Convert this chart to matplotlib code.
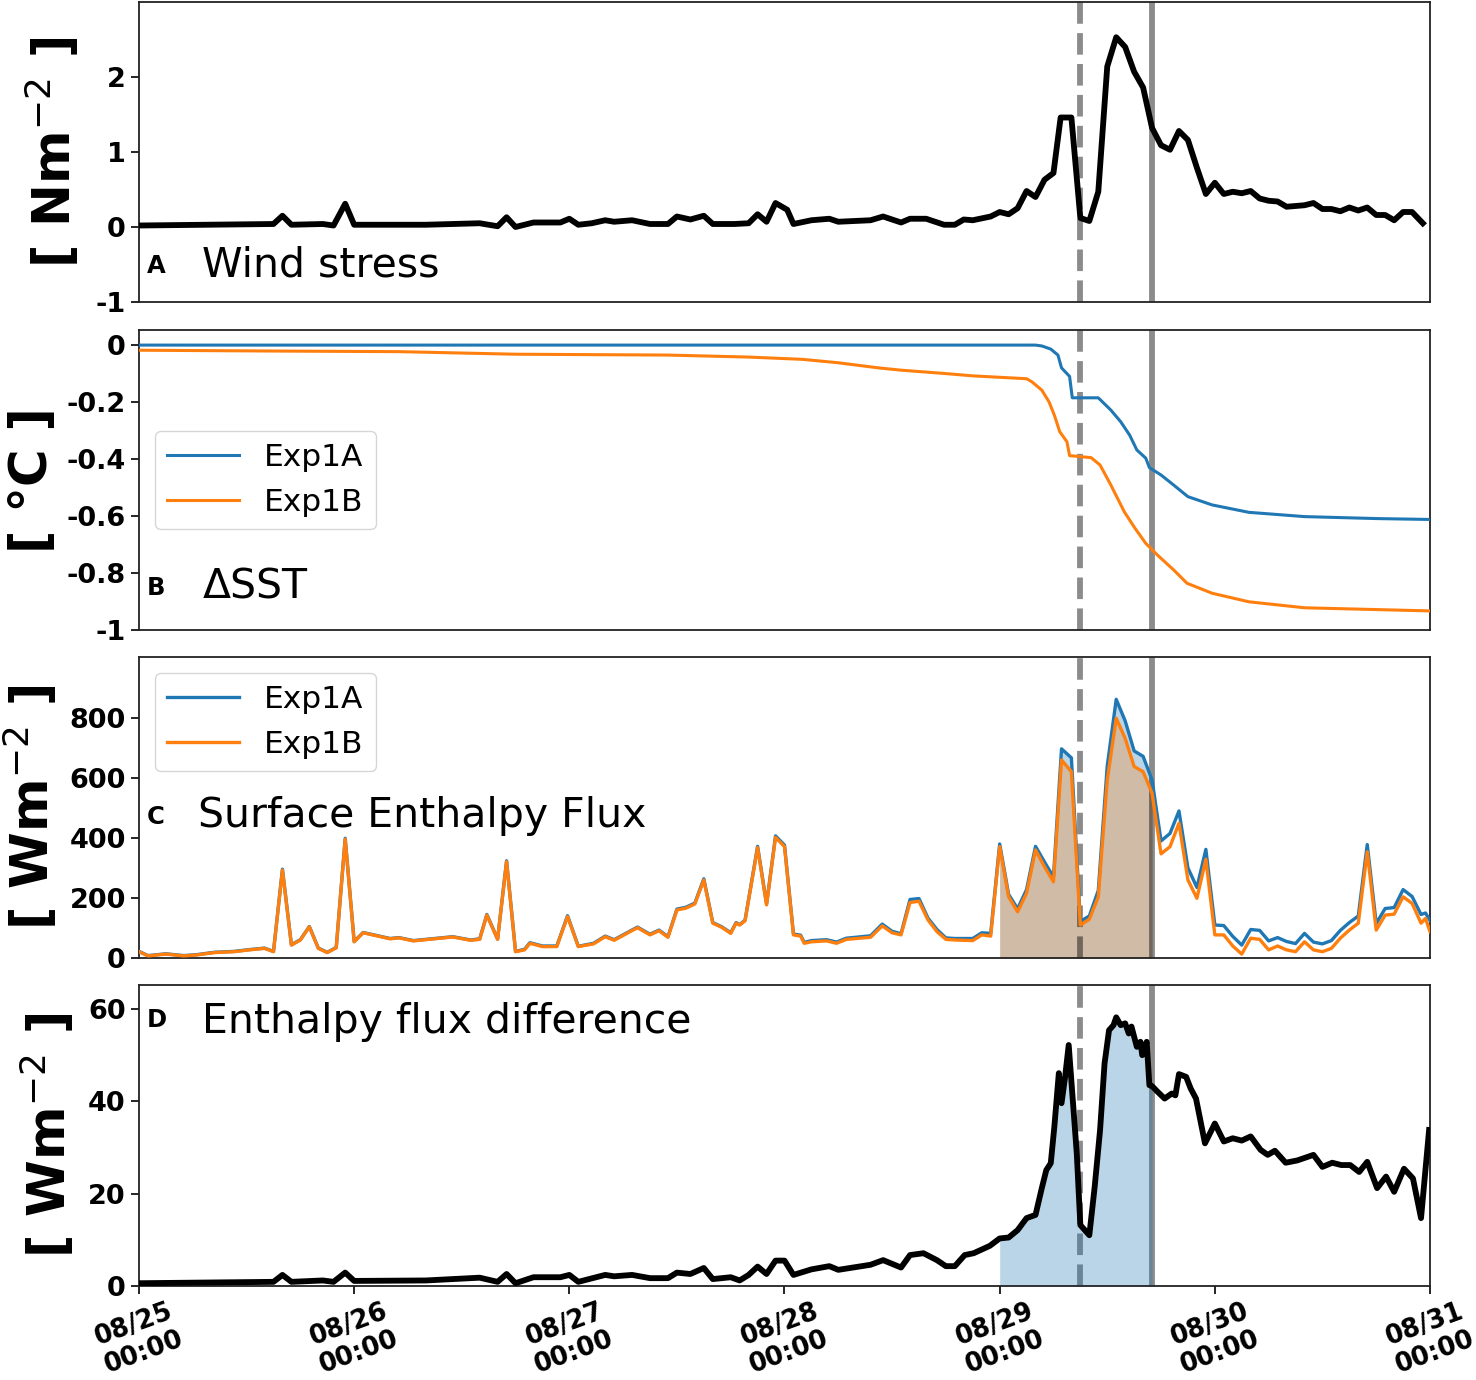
import numpy as np
import matplotlib
matplotlib.use("Agg")
import matplotlib.pyplot as plt

# ---------------- data (time in hours since 08/25 00:00) ----------------
tick_hours = [0, 24, 48, 72, 96, 120, 144]
tick_labels = ["08/25\n00:00", "08/26\n00:00", "08/27\n00:00", "08/28\n00:00",
               "08/29\n00:00", "08/30\n00:00", "08/31\n00:00"]
event_dashed = 105.0
event_solid = 113.0
shade_start = 96.0
shade_end = 113.0

# A: wind stress
tA = [0, 15, 16, 17, 20.5, 21.7, 23, 24, 32, 38,
      40, 41, 42, 44, 47, 48, 49, 50.5, 52, 53,
      55, 57, 59, 60, 61.5, 63, 64, 66.4, 68, 69,
      70, 71, 72.3, 73, 75, 77, 78, 81.6, 83, 85,
      86, 87.8, 89.8, 91, 92, 93, 95, 96, 97, 98,
      99, 100, 101, 102, 102.8, 104, 105, 106, 107, 108,
      109, 110, 111, 112, 113, 114, 115, 116, 117, 118,
      119, 120, 121, 122, 123, 124, 125, 126, 127, 128,
      130, 131, 132, 133, 134, 135, 136, 137, 138, 139,
      140, 141, 142, 143.2]
wind_stress = [0.02, 0.04, 0.15, 0.03, 0.04, 0.02, 0.31, 0.03, 0.03, 0.05,
               0.01, 0.13, 0.0, 0.06, 0.06, 0.11, 0.03, 0.05, 0.09, 0.07,
               0.09, 0.04, 0.04, 0.14, 0.10, 0.15, 0.04, 0.04, 0.05, 0.17,
               0.07, 0.32, 0.23, 0.04, 0.09, 0.11, 0.07, 0.09, 0.14, 0.06,
               0.11, 0.11, 0.03, 0.03, 0.10, 0.09, 0.14, 0.20, 0.17, 0.25,
               0.48, 0.40, 0.63, 0.72, 1.46, 1.46, 0.12, 0.08, 0.47, 2.14,
               2.53, 2.40, 2.07, 1.86, 1.32, 1.09, 1.03, 1.28, 1.16, 0.79,
               0.44, 0.59, 0.44, 0.47, 0.45, 0.48, 0.38, 0.35, 0.34, 0.27,
               0.29, 0.32, 0.24, 0.24, 0.21, 0.26, 0.22, 0.26, 0.16, 0.16,
               0.09, 0.20, 0.20, 0.05]

# B: delta SST
tB_a = [0, 100, 100.7, 101.7, 102.5, 102.9, 103.8, 104.1, 107, 108.4,
        109.5, 110.5, 111.3, 112.3, 112.7, 114, 115.4, 117, 119.7, 123.8,
        130, 138.2, 144]
dsst_a = [0.0, 0.0, -0.003, -0.014, -0.035, -0.08, -0.11, -0.185, -0.185, -0.228,
          -0.269, -0.316, -0.368, -0.397, -0.43, -0.456, -0.491, -0.532, -0.561, -0.587,
          -0.602, -0.609, -0.612]
tB_b = [0, 16, 29, 42, 59, 68, 74, 78, 82.5, 85,
        90, 93, 96, 99, 99.6, 100.7, 101.5, 102.1, 102.7, 103.5,
        103.8, 106.2, 107.2, 108.4, 109.9, 111.1, 112.3, 113.6, 115.4, 116.9,
        119.7, 123.8, 130, 144]
dsst_b = [-0.018, -0.021, -0.023, -0.032, -0.035, -0.042, -0.05, -0.062, -0.08, -0.088,
          -0.10, -0.108, -0.113, -0.118, -0.129, -0.158, -0.199, -0.246, -0.304, -0.339,
          -0.388, -0.395, -0.421, -0.491, -0.585, -0.643, -0.696, -0.737, -0.789, -0.836,
          -0.871, -0.901, -0.922, -0.933]

# C: surface enthalpy flux
tC = [0, 1, 3, 5, 6.4, 8.4, 10.6, 12.3, 14, 15,
      16, 17, 18, 19, 20, 21, 22, 23, 24, 25,
      28, 29, 30.6, 35, 37, 38, 38.8, 40, 41, 42,
      43, 43.6, 45, 46.6, 47.8, 49, 50.7, 52, 53, 55.6,
      57, 58, 59, 60, 61, 62, 63, 64, 65, 66,
      66.6, 67, 67.6, 69, 70, 71, 72, 73, 73.8, 74.2,
      75, 76.7, 77.8, 78.9, 81.6, 82.9, 84, 85, 86, 87,
      88, 89, 90, 91, 93, 94, 95, 96, 97, 98,
      99, 100, 101, 102, 102.9, 104, 105, 106, 107, 108,
      109, 110, 111, 112, 113, 114, 115, 116, 117, 118,
      119, 120, 121, 122, 123, 124, 125, 126, 127, 128,
      129, 130, 131, 132, 133, 134, 135, 136, 137, 138,
      139, 140, 141, 142, 143, 143.5, 144]
flux_b = [21, 7, 13, 7, 10, 18, 21, 27, 32, 21,
          293, 43, 60, 104, 32, 18, 34, 396, 54, 84,
          64, 67, 57, 70, 59, 62, 143, 62, 321, 21,
          27, 49, 38, 38, 138, 38, 47, 71, 59, 101,
          77, 91, 69, 160, 166, 180, 260, 116, 102, 82,
          116, 110, 124, 368, 177, 402, 371, 77, 73, 49,
          54, 57, 49, 62, 69, 107, 84, 77, 185, 189,
          127, 88, 62, 60, 58, 77, 73, 371, 204, 154,
          216, 360, 304, 254, 660, 621, 110, 129, 204, 593,
          799, 732, 638, 621, 549, 347, 371, 449, 260, 199,
          329, 77, 77, 40, 13, 66, 62, 27, 40, 27,
          21, 54, 27, 21, 32, 66, 93, 116, 354, 93,
          143, 146, 204, 182, 116, 132, 88]
flux_a = [22, 8, 14, 8, 11, 19, 22, 28, 33, 22,
          296, 44, 61, 105, 33, 19, 35, 399, 55, 85,
          65, 68, 58, 71, 60, 64, 145, 63, 324, 22,
          29, 51, 40, 40, 141, 39, 49, 73, 61, 103,
          79, 93, 71, 163, 169, 183, 264, 118, 104, 84,
          118, 111, 126, 372, 180, 407, 376, 80, 76, 52,
          58, 61, 53, 66, 74, 113, 89, 81, 195, 198,
          133, 95, 67, 65, 65, 84, 82, 380, 212, 164,
          228, 372, 320, 270, 697, 667, 122, 140, 225, 640,
          862, 790, 690, 672, 593, 390, 415, 490, 300, 235,
          362, 110, 108, 72, 43, 95, 92, 57, 68, 55,
          48, 82, 53, 47, 58, 92, 118, 140, 378, 115,
          165, 168, 228, 205, 145, 150, 125]

# D: enthalpy flux difference
tD = [0, 15, 16, 17, 20.5, 21.7, 23, 24, 32, 38,
      40, 41, 42, 44, 47, 48, 49, 52, 53, 55,
      57, 59, 60, 61.5, 63, 64, 66, 67, 68, 69,
      70, 71, 72, 73, 75, 77, 78, 81.6, 83, 85,
      86, 87.5, 89, 90, 91, 92.1, 93.1, 94.9, 96, 97,
      98, 99, 100, 100.7, 101.2, 101.7, 102.1, 102.6, 102.9, 103.3,
      103.7, 104.6, 105.0, 106.0, 106.6, 107.2, 107.7, 108.2, 108.7, 109.0,
      109.5, 110.0, 110.4, 110.7, 111.3, 111.7, 111.9, 112.4, 112.7, 113.0,
      113.6, 114.4, 115.2, 115.6, 116.0, 116.8, 117.3, 117.9, 118.9, 120.0,
      121.0, 122.0, 123.0, 124.0, 125.1, 125.9, 126.7, 127.9, 129.2, 131.0,
      132.0, 133.1, 134.1, 135.1, 136.1, 137.0, 138.1, 139.1, 140.0, 141.1,
      142.1, 143.0, 143.9]
flux_diff = [0.6, 0.9, 2.4, 0.9, 1.2, 0.9, 2.9, 1.1, 1.2, 1.8,
             0.9, 2.6, 0.6, 1.9, 1.9, 2.4, 0.9, 2.4, 2.1, 2.4,
             1.7, 1.7, 2.9, 2.6, 3.9, 1.5, 1.9, 1.2, 2.4, 4.2,
             2.6, 5.5, 5.5, 2.4, 3.6, 4.3, 3.5, 4.6, 5.6, 4.0,
             6.7, 7.1, 5.6, 4.3, 4.3, 6.7, 7.1, 8.7, 10.3, 10.5,
             12.1, 14.7, 15.4, 21.2, 25.1, 26.6, 34.5, 46.1, 39.6, 45.3,
             52.2, 28.7, 13.2, 11.0, 21.5, 33.8, 48.2, 55.4, 56.5, 58.2,
             56.5, 56.9, 54.7, 56.2, 51.8, 52.9, 50.0, 52.9, 43.5, 43.3,
             42.1, 40.6, 41.7, 41.3, 45.9, 45.3, 42.8, 40.6, 30.9, 35.2,
             31.3, 32.0, 31.5, 32.4, 29.5, 28.4, 29.3, 26.7, 27.2, 28.4,
             25.8, 26.7, 26.2, 26.2, 24.7, 26.9, 21.2, 23.7, 20.4, 25.4,
             23.3, 14.7, 33.8]

# ---------------- figure ----------------
plt.rcParams['font.family'] = ['DejaVu Sans']
fig = plt.figure(figsize=(14.76, 13.8), dpi=100)

L, W = 139 / 1476, 1291 / 1476
def box(top_px, bot_px):
    return [L, 1 - bot_px / 1380, W, (bot_px - top_px) / 1380]

axA = fig.add_axes(box(2, 302))
axB = fig.add_axes(box(330, 630))
axC = fig.add_axes(box(657, 958))
axD = fig.add_axes(box(985, 1286))
axes = [axA, axB, axC, axD]

TICK_FS = 19.5
XTICK_FS = 18.5
LABEL_FS = 37
TITLE_FS = 29.5
LETTER_FS = 17.5
LEG_FS = 22.5
BLACK_LW = 4.2
blue, orange = '#1f77b4', '#ff7f0e'

def style(ax):
    for s in ax.spines.values():
        s.set_linewidth(1.3)
        s.set_color('#222222')
    ax.tick_params(axis='y', labelsize=TICK_FS, length=6, width=1.2)
    for lab in ax.get_yticklabels():
        lab.set_fontweight('bold')
    ax.set_xlim(0, 144)
    ax.axvline(event_dashed, color='k', alpha=0.45, lw=4.2, ls='--', zorder=1.5)
    ax.axvline(event_solid, color='k', alpha=0.45, lw=4.2, ls='-', zorder=1.5)

def fmt(v):
    return f"{v:g}"

# A
axA.plot(tA, wind_stress, color='k', lw=BLACK_LW, zorder=3)
axA.set_ylim(-1, 3)
axA.set_yticks([-1, 0, 1, 2])
axA.set_yticklabels([fmt(v) for v in [-1, 0, 1, 2]])
axA.set_xticks([])
axA.set_ylabel(r'[ Nm$^{-2}$ ]', fontsize=LABEL_FS, fontweight='bold')
axA.yaxis.set_label_coords(-0.044, 0.5)
axA.text(0.006, 0.12, 'A', transform=axA.transAxes, fontsize=LETTER_FS,
         fontweight='bold', va='center', ha='left')
axA.text(0.049, 0.123, 'Wind stress', transform=axA.transAxes, fontsize=TITLE_FS,
         va='center', ha='left')

# B
axB.plot(tB_a, dsst_a, color=blue, lw=2.2, label='Exp1A', zorder=3)
axB.plot(tB_b, dsst_b, color=orange, lw=2.2, label='Exp1B', zorder=3)
axB.set_ylim(-1, 0.053)
bt = [-1, -0.8, -0.6, -0.4, -0.2, 0]
axB.set_yticks(bt)
axB.set_yticklabels([fmt(v) for v in bt])
axB.set_xticks([])
axB.set_ylabel('[ °C ]', fontsize=LABEL_FS, fontweight='bold')
axB.yaxis.set_label_coords(-0.063, 0.5)
axB.legend(loc='center left', fontsize=LEG_FS, handlelength=2.3)
axB.text(0.006, 0.14, 'B', transform=axB.transAxes, fontsize=LETTER_FS,
         fontweight='bold', va='center', ha='left')
axB.text(0.049, 0.143, 'ΔSST', transform=axB.transAxes, fontsize=TITLE_FS,
         va='center', ha='left')

# C
tC_arr = np.array(tC)
maskC = (tC_arr >= shade_start) & (tC_arr <= shade_end)
axC.fill_between(tC_arr, 0, flux_a, where=maskC, color=blue, alpha=0.3, lw=0, zorder=1)
axC.fill_between(tC_arr, 0, flux_b, where=maskC, color=orange, alpha=0.3, lw=0, zorder=1)
axC.plot(tC_arr, flux_a, color=blue, lw=2.4, label='Exp1A', zorder=3)
axC.plot(tC_arr, flux_b, color=orange, lw=2.4, label='Exp1B', zorder=3)
axC.set_ylim(0, 1003)
ct = [0, 200, 400, 600, 800]
axC.set_yticks(ct)
axC.set_yticklabels([fmt(v) for v in ct])
axC.set_xticks([])
axC.set_ylabel(r'[ Wm$^{-2}$ ]', fontsize=LABEL_FS, fontweight='bold')
axC.yaxis.set_label_coords(-0.061, 0.5)
axC.legend(loc='upper left', fontsize=LEG_FS, handlelength=2.3)
axC.text(0.006, 0.468, 'C', transform=axC.transAxes, fontsize=LETTER_FS,
         fontweight='bold', va='center', ha='left')
axC.text(0.046, 0.472, 'Surface Enthalpy Flux', transform=axC.transAxes,
         fontsize=TITLE_FS, va='center', ha='left')

# D
tD_arr = np.array(tD)
maskD = (tD_arr >= shade_start) & (tD_arr <= shade_end)
axD.fill_between(tD_arr, 0, flux_diff, where=maskD, color=blue, alpha=0.3, lw=0, zorder=2)
axD.plot(tD_arr, flux_diff, color='k', lw=BLACK_LW, zorder=3)
axD.set_ylim(0, 65.2)
dt = [0, 20, 40, 60]
axD.set_yticks(dt)
axD.set_yticklabels([fmt(v) for v in dt])
axD.set_ylabel(r'[ Wm$^{-2}$ ]', fontsize=LABEL_FS, fontweight='bold')
axD.yaxis.set_label_coords(-0.048, 0.5)
axD.set_xticks(tick_hours)
axD.set_xticklabels(tick_labels, rotation=20, ha='center', fontsize=XTICK_FS,
                    fontweight='bold', linespacing=1.15)
axD.tick_params(axis='x', length=6, width=1.2, pad=3)
axD.text(0.006, 0.884, 'D', transform=axD.transAxes, fontsize=LETTER_FS,
         fontweight='bold', va='center', ha='left')
axD.text(0.049, 0.878, 'Enthalpy flux difference', transform=axD.transAxes,
         fontsize=TITLE_FS, va='center', ha='left')

for ax in axes:
    style(ax)

fig.savefig('out.png', dpi=100)
